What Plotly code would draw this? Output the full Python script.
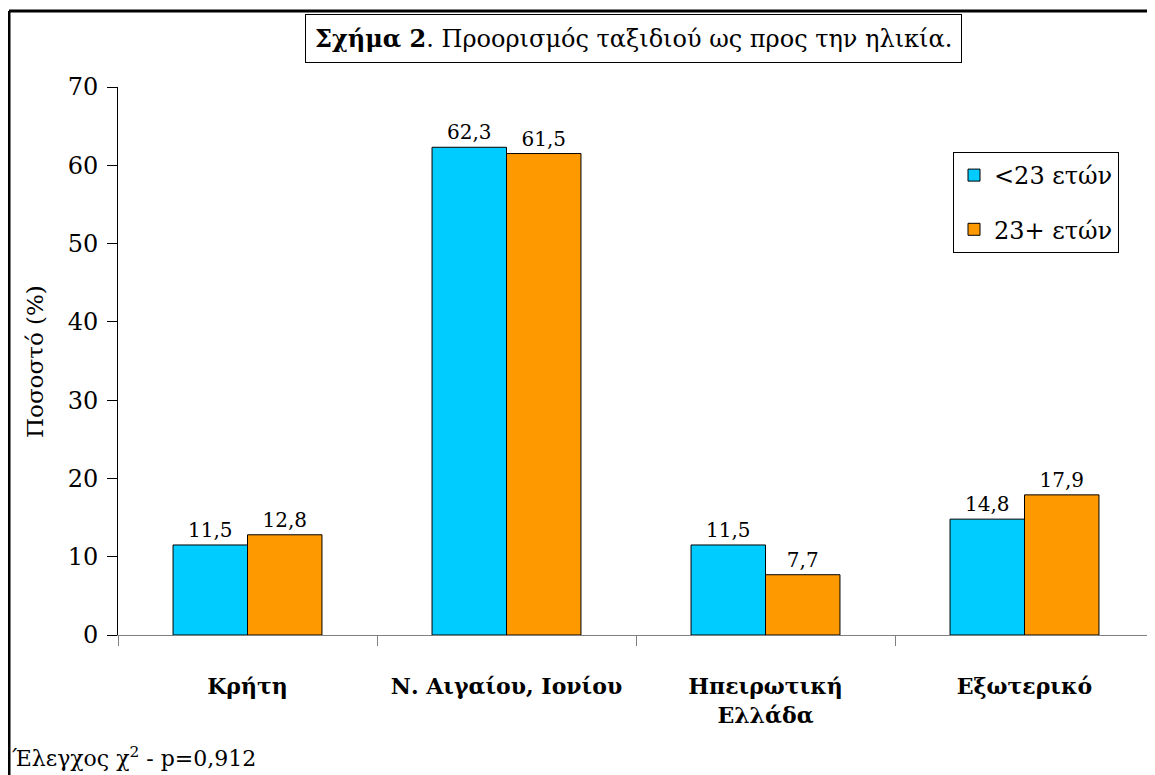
import plotly.graph_objects as go

categories = ["<b>Κρήτη</b>", "<b>Ν. Αιγαίου, Ιονίου</b>", "<b>Ηπειρωτική<br>Ελλάδα</b>", "<b>Εξωτερικό</b>"]
under_23 = [11.5, 62.3, 11.5, 14.8]
over_23 = [12.8, 61.5, 7.7, 17.9]
series_names = ["<23 ετών", "23+ ετών"]
y_ticks = [0, 10, 20, 30, 40, 50, 60, 70]

FONT = "DejaVu Serif"

# page body has an 8px margin, so figure coords = reference px - 8
OFF = 8
W, H = 1155 - OFF, 775 - OFF
PL, PR, PT, PB = 118 - OFF, 1154 - OFF, 87 - OFF, 635 - OFF


def px_x(x):
    return (x - OFF - PL) / (PR - PL)


def px_y(y):
    return (PB - (y - OFF)) / (PB - PT)


fig = go.Figure()
for name, vals, color in zip(series_names, [under_23, over_23], ["#00CCFF", "#FF9900"]):
    fig.add_trace(go.Bar(
        x=categories, y=vals, name=name, legendgroup=name,
        marker=dict(color=color, line=dict(color="black", width=1)),
        texttemplate="%{y:.1f}", textposition="outside",
        textfont=dict(family=FONT, size=20, color="black"),
        cliponaxis=False,
    ))

# frame lines (left and top)
fig.add_shape(type="line", xref="paper", yref="paper", x0=px_x(9), x1=px_x(9), y0=px_y(775), y1=px_y(11),
              line=dict(color="black", width=3))
fig.add_shape(type="line", xref="paper", yref="paper", x0=px_x(9), x1=px_x(1160), y0=px_y(11), y1=px_y(11),
              line=dict(color="black", width=3))

fig.add_annotation(
    text="<b>Σχήμα 2</b>. Προορισμός ταξιδιού ως προς την ηλικία.",
    xref="paper", yref="paper", x=px_x(633), y=px_y(38), xanchor="center", yanchor="middle",
    showarrow=False, font=dict(family=FONT, size=24, color="black"),
    bordercolor="black", borderwidth=1, borderpad=9, bgcolor="white",
)
fig.add_annotation(
    text="Ποσοστό (%)", textangle=-90,
    xref="paper", yref="paper", x=px_x(35), y=px_y(362), xanchor="center", yanchor="middle",
    showarrow=False, font=dict(family=FONT, size=23, color="black"),
)
fig.add_annotation(
    text="Έλεγχος χ<sup>2</sup> - p=0,912",
    xref="paper", yref="paper", x=px_x(10), y=px_y(757), xanchor="left", yanchor="middle",
    showarrow=False, font=dict(family=FONT, size=22, color="black"),
)

fig.update_layout(
    width=W, height=H,
    margin=dict(l=PL, r=W - PR, t=PT, b=H - PB),
    paper_bgcolor="white", plot_bgcolor="white",
    separators=",.",
    barmode="group", bargap=0.425, bargroupgap=0,
    font=dict(family=FONT, color="black"),
    legend=dict(
        x=px_x(953), y=px_y(152), xanchor="left", yanchor="top",
        bordercolor="black", borderwidth=1, bgcolor="white",
        font=dict(family=FONT, size=24, color="black"),
        tracegroupgap=20, itemwidth=30,
    ),
    xaxis=dict(
        showline=True, linecolor="#808080", linewidth=1,
        ticks="outside", tickson="boundaries", ticklen=10, tickcolor="#808080",
        tickfont=dict(family=FONT, size=22, color="black"),
        ticklabelstandoff=32,
    ),
    yaxis=dict(
        range=[0, 70], tickvals=y_ticks, showgrid=False, zeroline=False,
        showline=True, linecolor="black", linewidth=1,
        ticks="outside", ticklen=10, tickcolor="black",
        tickfont=dict(family=FONT, size=24, color="black"),
        ticklabelstandoff=4,
    ),
)

fig.write_html("out.html")
